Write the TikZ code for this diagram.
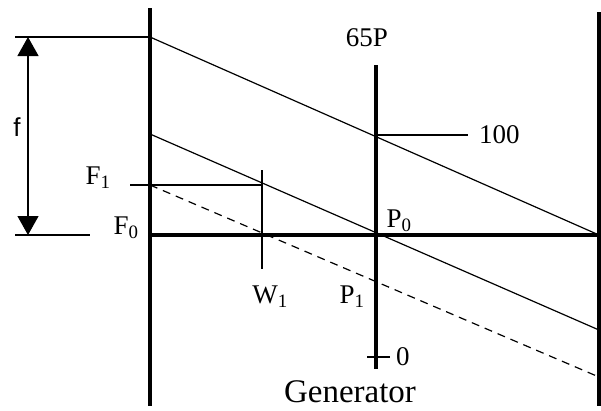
\documentclass[tikz,border=0pt]{standalone}
\usepackage{fontspec}
\setmainfont{Liberation Serif}
\newfontfamily\labsans{Liberation Sans}
\usetikzlibrary{arrows.meta,positioning}

\begin{document}
\begin{tikzpicture}[
  x=1pt, y=-1pt,
  wall/.style={line width=4pt},
  ray/.style={line width=1.2pt},
  thin/.style={line width=1.2pt},
  lbl/.style={inner sep=0pt, font=\fontsize{27}{29}\selectfont},
  dim/.style={{Triangle[length=19pt,width=21pt]}-{Triangle[length=19pt,width=21pt]}, line width=1.2pt}
]
\useasboundingbox (0,0) rectangle (601,410);
% walls
\coordinate (lt) at (150,8);   \coordinate (lb) at (150,406);
\coordinate (rt) at (599,12);  \coordinate (rb) at (599,406);
\coordinate (gt) at (376,65);  \coordinate (gb) at (376,369);
\coordinate (F0) at (150,235); \coordinate (R0) at (599,235);
\draw[wall] (lt) -- (lb);
\draw[wall] (rt) -- (rb);
\draw[wall] (gt) -- (gb);
\draw[wall] (F0) -- (R0);
% rays
\coordinate (top) at (150,37);
\coordinate (mid) at (150,134);  \coordinate (midr) at (599,330);
\coordinate (F1) at (150,185);   \coordinate (dashr) at (599,377);
\draw[ray] (top) -- (R0);
\draw[ray] (mid) -- (midr);
\draw[ray, dash pattern=on 8pt off 6pt] (F1) -- (dashr);
% dimension f
\coordinate (ftop) at (15,37);  \coordinate (fbot) at (15,235);
\coordinate (fbotr) at (90,235);
\draw[thin] (ftop) -- (top);
\draw[thin] (fbot) -- (fbotr);
\draw[dim] (28,37) -- (28,235);
\node[lbl, font=\labsans\fontsize{26}{28}\selectfont] (flab) at (17,127) {f};
% F1 / W1
\coordinate (F1l) at (130,185);  \coordinate (F1r) at (262,185);
\coordinate (W1t) at (262,170);  \coordinate (W1b) at (262,269);
\draw[thin] (F1l) -- (F1r);
\draw[thin] (W1t) -- (W1b);
% scale ticks
\coordinate (t100) at (468,135); \coordinate (g100) at (376,135);
\coordinate (t0l) at (367,357);  \coordinate (t0r) at (390,357);
\draw[thin] (g100) -- (t100);
\draw[thin] (t0l) -- (t0r);
% labels
\node[lbl] (lF1) at (98,178) {F\textsubscript{1}};
\node[lbl] (lF0) at (126,228) {F\textsubscript{0}};
\node[lbl] (lW1) at (270,297) {W\textsubscript{1}};
\node[lbl] (lP1) at (352,297) {P\textsubscript{1}};
\node[lbl] (lP0) at (399,221) {P\textsubscript{0}};
\node[lbl, anchor=west] (l100) at (479,135) {100};
\node[lbl, anchor=west] (l0) at (396,357) {0};
\node[lbl] (l65) at (367,38) {65P};
\node[lbl, font=\fontsize{33}{35}\selectfont] (lgen) at (350,392) {Generator};
\end{tikzpicture}
\end{document}
